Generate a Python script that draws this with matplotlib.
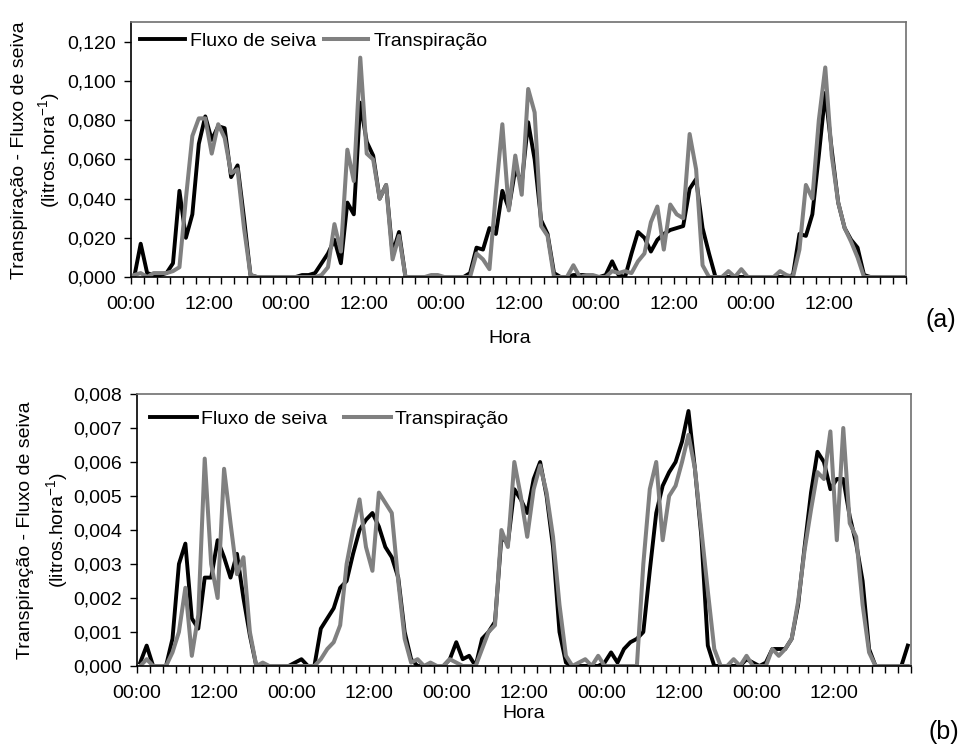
"""
 - Transpiração x Fluxo de seiva (a) e (b)
"""

import numpy as np
import matplotlib
matplotlib.use('Agg')
import matplotlib.pyplot as plt
from matplotlib.ticker import FuncFormatter, MultipleLocator

plt.rcParams['font.family'] = ['Liberation Sans', 'DejaVu Sans']
plt.rcParams['mathtext.default'] = 'regular'

# dados horários (5 dias, 120 horas)
fluxo_a = [
    0.000, 0.017, 0.002, 0.001, 0.001, 0.002, 0.007, 0.044, 0.020, 0.032, 0.068, 0.082,
    0.070, 0.077, 0.076, 0.051, 0.057, 0.030, 0.001, 0, 0, 0, 0, 0,
    0, 0, 0.001, 0.001, 0.002, 0.007, 0.012, 0.019, 0.007, 0.038, 0.032, 0.089,
    0.069, 0.062, 0.040, 0.047, 0.012, 0.023, 0, 0, 0, 0, 0, 0,
    0, 0, 0, 0, 0.002, 0.015, 0.014, 0.025, 0.022, 0.044, 0.035, 0.055,
    0.048, 0.079, 0.060, 0.029, 0.022, 0.002, 0, 0, 0.001, 0.001, 0.001, 0,
    0, 0.001, 0.008, 0.001, 0.000, 0.012, 0.023, 0.020, 0.013, 0.019, 0.022, 0.024,
    0.025, 0.026, 0.045, 0.050, 0.025, 0.012, 0, 0, 0, 0, 0, 0,
    0, 0, 0, 0, 0, 0, 0.001, 0.022, 0.021, 0.032, 0.062, 0.094,
    0.065, 0.038, 0.025, 0.019, 0.015, 0.001, 0, 0, 0, 0, 0, 0,
]
transp_a = [
    0.001, 0.002, 0.000, 0.002, 0.002, 0.002, 0.003, 0.005, 0.040, 0.072, 0.081, 0.081,
    0.063, 0.078, 0.071, 0.053, 0.055, 0.025, 0.001, 0, 0, 0, 0, 0,
    0, 0, 0, 0, 0, 0.001, 0.005, 0.027, 0.013, 0.065, 0.049, 0.112,
    0.063, 0.060, 0.040, 0.047, 0.009, 0.021, 0, 0, 0, 0, 0.001, 0.001,
    0, 0, 0, 0, 0, 0.012, 0.009, 0.004, 0.043, 0.078, 0.034, 0.062,
    0.042, 0.096, 0.084, 0.026, 0.021, 0, 0, 0, 0.006, 0, 0.001, 0.001,
    0, 0, 0.003, 0.002, 0.003, 0.002, 0.008, 0.012, 0.028, 0.036, 0.014, 0.037,
    0.032, 0.030, 0.073, 0.055, 0.006, 0, 0, 0, 0.003, 0, 0.004, 0,
    0, 0, 0, 0, 0.003, 0.001, 0.000, 0.014, 0.047, 0.040, 0.080, 0.107,
    0.062, 0.038, 0.025, 0.018, 0.010, 0, 0, 0, 0, 0, 0, 0,
]
fluxo_b = [
    0.0001, 0.0006, 0, 0, 0, 0.0008, 0.0030, 0.0036, 0.0014, 0.0011, 0.0026, 0.0026,
    0.0037, 0.0032, 0.0026, 0.0033, 0.0020, 0.0009, 0, 0, 0, 0, 0, 0,
    0.0001, 0.0002, 0, 0, 0.0011, 0.0014, 0.0017, 0.0023, 0.0025, 0.0033, 0.0040, 0.0043,
    0.0045, 0.0041, 0.0035, 0.0032, 0.0026, 0.0010, 0.0002, 0, 0, 0, 0, 0,
    0.0002, 0.0007, 0.0002, 0.0003, 0, 0.0008, 0.0010, 0.0013, 0.0038, 0.0036, 0.0052, 0.0049,
    0.0045, 0.0055, 0.0060, 0.0050, 0.0035, 0.0010, 0.0001, 0, 0, 0, 0, 0,
    0.0001, 0.0004, 0.0001, 0.0005, 0.0007, 0.0008, 0.0010, 0.0028, 0.0045, 0.0053, 0.0057, 0.0060,
    0.0066, 0.0075, 0.0058, 0.0038, 0.0006, 0, 0, 0, 0, 0, 0.0002, 0.0001,
    0, 0.0001, 0.0005, 0.0005, 0.0005, 0.0008, 0.0018, 0.0035, 0.0051, 0.0063, 0.0060, 0.0052,
    0.0055, 0.0055, 0.0044, 0.0036, 0.0025, 0.0005, 0, 0, 0, 0, 0, 0.0006,
]
transp_b = [
    0, 0.0002, 0, 0, 0, 0.0004, 0.0010, 0.0023, 0.0003, 0.0015, 0.0061, 0.0030,
    0.0020, 0.0058, 0.0042, 0.0027, 0.0032, 0.0010, 0, 0.0001, 0, 0, 0, 0,
    0, 0, 0, 0, 0.0002, 0.0005, 0.0007, 0.0012, 0.0030, 0.0040, 0.0049, 0.0035,
    0.0028, 0.0051, 0.0048, 0.0045, 0.0025, 0.0008, 0.0001, 0.0002, 0, 0.0001, 0, 0,
    0.0002, 0.0001, 0, 0, 0, 0.0005, 0.0010, 0.0012, 0.0040, 0.0035, 0.0060, 0.0050,
    0.0038, 0.0052, 0.0059, 0.0051, 0.0038, 0.0018, 0.0003, 0, 0.0001, 0.0002, 0, 0.0003,
    0, 0, 0, 0, 0, 0, 0.0030, 0.0052, 0.0060, 0.0037, 0.0050, 0.0053,
    0.0060, 0.0068, 0.0058, 0.0040, 0.0022, 0.0005, 0, 0, 0.0002, 0, 0.0003, 0,
    0, 0, 0.0005, 0.0003, 0.0005, 0.0008, 0.0019, 0.0034, 0.0046, 0.0057, 0.0055, 0.0069,
    0.0037, 0.0070, 0.0042, 0.0038, 0.0018, 0.0004, 0, 0, 0, 0, 0, 0,
]
horas = np.arange(120) + 0.5
rotulos_hora = ['00:00', '12:00'] * 5
pos_rotulos = np.arange(0, 120, 12)

fig = plt.figure(figsize=(9.59, 7.49), dpi=100)

# posições dos eixos (pixels da figura original)
W, H = 959, 749
ax1 = fig.add_axes([131 / W, 1 - 277 / H, 775 / W, 255 / H])
ax2 = fig.add_axes([137 / W, 1 - 666 / H, 774 / W, 272 / H])


def estilo(ax, ymax, ystep, fmt):
    ax.set_xlim(0, 120)
    ax.set_ylim(0, ymax)
    ax.set_xticks(pos_rotulos)
    ax.set_xticklabels(rotulos_hora)
    ax.xaxis.set_minor_locator(MultipleLocator(2))
    ax.yaxis.set_major_locator(MultipleLocator(ystep))
    ax.yaxis.set_major_formatter(FuncFormatter(lambda v, p: fmt.format(v).replace('.', ',')))
    ax.tick_params(axis='x', which='both', direction='out', length=5, width=1, labelsize=14, pad=9)
    ax.tick_params(axis='y', direction='out', length=5, width=1, labelsize=14, pad=6)
    for s in ['top', 'right']:
        ax.spines[s].set_color('#707070')
        ax.spines[s].set_linewidth(1.2)
    for s in ['left', 'bottom']:
        ax.spines[s].set_color('black')
        ax.spines[s].set_linewidth(1.2)


# (a)
ax1.plot(horas, fluxo_a, color='black', lw=2.8, solid_joinstyle='round', label='Fluxo de seiva')
ax1.plot(horas, transp_a, color='#808080', lw=2.9, solid_joinstyle='round', label='Transpiração')
estilo(ax1, 0.1302, 0.02, '{:.3f}')
ax1.legend(loc='center left', bbox_to_anchor=(0.0116, 0.925), ncol=2, frameon=False,
           fontsize=14, handlelength=2.3, handletextpad=0.25, columnspacing=0.4,
           borderpad=0, borderaxespad=0)

# (b)
ax2.plot(horas, fluxo_b, color='black', lw=2.8, solid_joinstyle='round', label='Fluxo de seiva')
ax2.plot(horas, transp_b, color='#808080', lw=2.9, solid_joinstyle='round', label='Transpiração')
estilo(ax2, 0.008, 0.001, '{:.3f}')
ax2.legend(loc='center left', bbox_to_anchor=(0.0168, 0.908), ncol=2, frameon=False,
           fontsize=14, handlelength=2.4, handletextpad=0.2, columnspacing=0.9,
           borderpad=0, borderaxespad=0)

# rótulos
for xa, xb, yc in [(20, 49, 150), (26, 57, 530)]:
    fig.text(xa / W, 1 - yc / H, 'Transpiração - Fluxo de seiva', rotation=90,
             ha='center', va='center', fontsize=14)
    fig.text(xb / W, 1 - yc / H, '(litros.hora$^{-1}$)', rotation=90,
             ha='center', va='center', fontsize=14)

fig.text(510 / W, 1 - 338 / H, 'Hora', ha='center', va='center', fontsize=14)
fig.text(524 / W, 1 - 713 / H, 'Hora', ha='center', va='center', fontsize=14)
fig.text(941 / W, 1 - 320 / H, '(a)', ha='center', va='center', fontsize=18)
fig.text(929 / W, 1 - 732 / H, '(b)', ha='left', va='center', fontsize=18)

fig.savefig('out.png', dpi=100)
